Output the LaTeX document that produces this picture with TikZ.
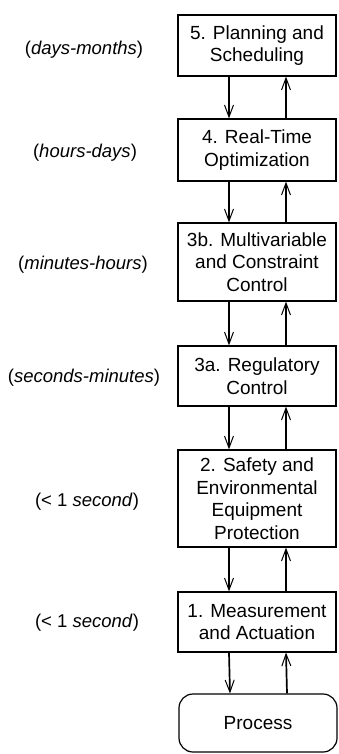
\documentclass[tikz,border=0pt]{standalone}
\usepackage{fontspec}
\setmainfont{Liberation Sans}
\usetikzlibrary{arrows.meta}
\tikzset{
  lvl/.style={draw, line width=1.2pt, minimum width=158pt, inner sep=0pt, align=center,
    font=\fontsize{19}{22.5}\selectfont},
  proc/.style={lvl, rounded corners=14pt},
  tlab/.style={font=\fontsize{18.5}{22}\selectfont, inner sep=0pt},
  arr/.style={line width=1.7pt, -{Straight Barb[length=12pt,width=9pt,line width=1pt]}}
}
\begin{document}
\begin{tikzpicture}[x=1pt,y=-1pt]
\useasboundingbox (0,0) rectangle (338,754);
\node[lvl, minimum height=61pt] (n5) at (257,45.5) {5. Planning and\\Scheduling};
\node[lvl, minimum height=62pt] (n4) at (257,150) {4. Real-Time\\Optimization};
\node[lvl, minimum height=78pt] (n3b) at (257,262) {3b. Multivariable\\and Constraint\\Control};
\node[lvl, minimum height=60pt] (n3a) at (257,376) {3a. Regulatory\\Control};
\node[lvl, minimum height=97pt] (n2) at (257,498.5) {2. Safety and\\Environmental\\Equipment\\Protection};
\node[lvl, minimum height=60pt] (n1) at (257,622) {1. Measurement\\and Actuation};
\node[proc, minimum height=58pt] (np) at (258,723) {Process};

\node[tlab] (t5) at (84,50) {(\textit{days-months})};
\node[tlab] (t4) at (85,153) {(\textit{hours-days})};
\node[tlab] (t3b) at (83,265) {(\textit{minutes-hours})};
\node[tlab] (t3a) at (84,378) {(\textit{seconds-minutes})};
\node[tlab] (t2) at (87,502) {(< 1 \textit{second})};
\node[tlab] (t1) at (87,623) {(< 1 \textit{second})};

\foreach \a/\b in {n5/n4, n4/n3b, n3b/n3a, n3a/n2, n2/n1, n1/np}{
  \draw[arr] ([xshift=-28pt]\a.south) -- ([xshift=-28pt]\b.north);
  \draw[arr] ([xshift=29pt]\b.north) -- ([xshift=29pt]\a.south);
}
\end{tikzpicture}
\end{document}
